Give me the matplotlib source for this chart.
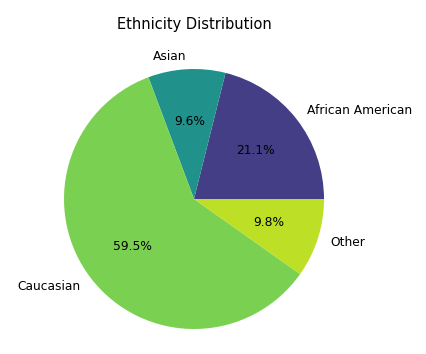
import matplotlib
matplotlib.use('Agg')
import matplotlib.pyplot as plt

labels = ['African American', 'Asian', 'Caucasian', 'Other']
counts = [211, 96, 595, 98]
colors = ['#433e85', '#21918c', '#7ad151', '#bddf26']

W, H = 426, 354
fig = plt.figure(figsize=(W / 100, H / 100), dpi=100)

# pie centre (194, 199) px, radius 130 px; axes spans +-1.25 data units
cx, cy, r = 194, 199, 130
half = 1.25 * r
ax = fig.add_axes([(cx - half) / W, (H - cy - half) / H, 2 * half / W, 2 * half / H])
ax.pie(counts, labels=labels, colors=colors, autopct='%1.1f%%',
       textprops={'fontsize': 8.8})
ax.set_xlim(-1.25, 1.25)
ax.set_ylim(-1.25, 1.25)
fig.text(cx / W, 1 - 25 / H, 'Ethnicity Distribution', fontsize=10.5,
         ha='center', va='center')
plt.savefig('out.png', dpi=100)
